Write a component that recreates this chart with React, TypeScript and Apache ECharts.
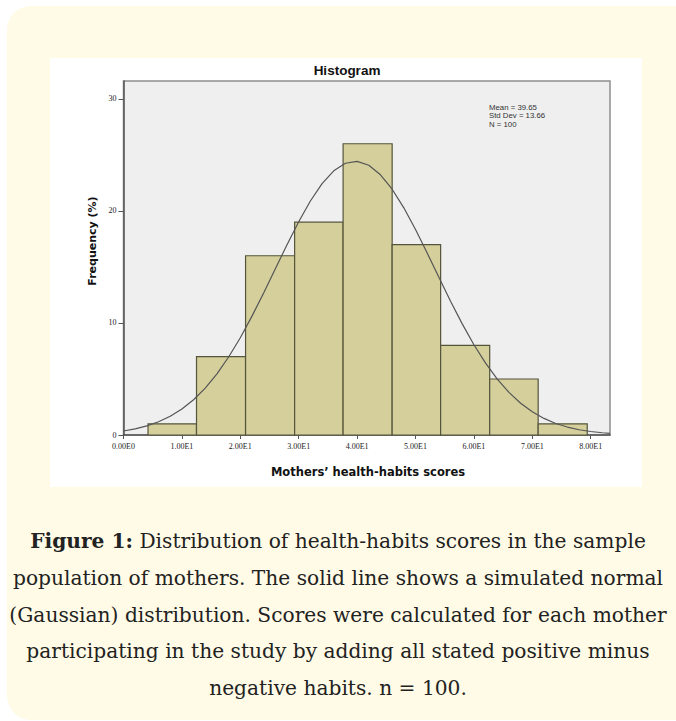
import React, { useEffect, useRef } from "react";
import * as echarts from "echarts";

// Histogram bins (score edges) and counts (% of 100 mothers)
const binEdges = [4.2, 12.5, 20.9, 29.3, 37.6, 46.0, 54.3, 62.7, 71.0, 79.4];
const binCounts = [1, 7, 16, 19, 26, 17, 8, 5, 1];

// Normal curve points
const curveX = [0, 2, 4, 6, 8, 10, 12, 14, 16, 18, 20, 22, 24, 26, 28, 30, 32, 34, 36, 38, 40, 42, 44, 46, 48, 50, 52, 54, 56, 58, 60, 62, 64, 66, 68, 70, 72, 74, 76, 78, 80, 82, 83.3];
const curveY = [0.36, 0.55, 0.81, 1.18, 1.67, 2.32, 3.15, 4.19, 5.46, 6.96, 8.68, 10.61, 12.68, 14.84, 16.99, 19.04, 20.89, 22.44, 23.58, 24.26, 24.43, 24.08, 23.23, 21.94, 20.28, 18.34, 16.24, 14.08, 11.94, 9.92, 8.06, 6.41, 4.99, 3.8, 2.84, 2.07, 1.48, 1.03, 0.71, 0.47, 0.31, 0.2, 0.15];

const xTickValues = [0, 10, 20, 30, 40, 50, 60, 70, 80];
const xTickLabels = ["0.00E0", "1.00E1", "2.00E1", "3.00E1", "4.00E1", "5.00E1", "6.00E1", "7.00E1", "8.00E1"];
const yTickValues = [0, 10, 20, 30];
const yTickLabels = ["0", "10", "20", "30"];

const chartTitle = "Histogram";
const xAxisTitle = "Mothers\u2019 health-habits scores";
const yAxisTitle = "Frequency (%)";
const statsLines = ["Mean = 39.65", "Std Dev = 13.66", "N = 100"];
const captionLines = [
  "{b|Figure 1:} Distribution of health-habits scores in the sample",
  "population of mothers. The solid line shows a simulated normal",
  "(Gaussian) distribution. Scores were calculated for each mother",
  "participating in the study by adding all stated positive minus",
  "negative habits. n = 100.",
];

const CAPTION_FONT = "DejaVu Serif";
const CAPTION_SIZE = 20.2;

export default function App() {
  const ref = useRef<HTMLDivElement>(null);
  useEffect(() => {
    const chart = echarts.init(ref.current!, null, { renderer: "svg" });
    const histData = binCounts.map((c, i) => [binEdges[i], binEdges[i + 1], c]);
    const captionGraphics = captionLines.map((line, i) => ({
      type: "text",
      x: 338,
      y: 541 + i * 36.8,
      style: {
        text: line,
        fontFamily: CAPTION_FONT,
        fontSize: CAPTION_SIZE,
        fill: "#222",
        align: "center",
        verticalAlign: "middle",
        rich: {
          b: { fontFamily: CAPTION_FONT, fontSize: CAPTION_SIZE, fontWeight: "bold", fill: "#222" },
        },
      },
    }));
    chart.setOption({
      animation: false,
      grid: {
        left: 123.5,
        top: 81,
        right: 66,
        bottom: 286,
        show: true,
        backgroundColor: "#efefef",
        borderColor: "#8f8f8f",
        borderWidth: 1.5,
      },
      xAxis: {
        type: "value",
        min: 0,
        max: 83.3,
        interval: 10,
        splitLine: { show: false },
        axisLine: { show: true, onZero: false, lineStyle: { color: "#555", width: 1.5 } },
        axisTick: { show: true, customValues: xTickValues, length: 4, lineStyle: { color: "#555" } },
        axisLabel: {
          customValues: xTickValues,
          formatter: (v: number) => {
            const i = xTickValues.indexOf(v);
            return i >= 0 ? xTickLabels[i] : "";
          },
          fontSize: 8,
          fontFamily: "Liberation Serif",
          color: "#222",
          margin: 7,
        },
      },
      yAxis: {
        type: "value",
        min: 0,
        max: 31.6,
        interval: 10,
        splitLine: { show: false },
        axisLine: { show: true, onZero: false, lineStyle: { color: "#555", width: 1.5 } },
        axisTick: { show: true, customValues: yTickValues, length: 5, lineStyle: { color: "#555" } },
        axisLabel: {
          customValues: yTickValues,
          formatter: (v: number) => {
            const i = yTickValues.indexOf(v);
            return i >= 0 ? yTickLabels[i] : "";
          },
          fontSize: 8,
          fontFamily: "Liberation Serif",
          color: "#222",
          margin: 7,
        },
      },
      series: [
        {
          type: "custom",
          renderItem: (params: any, api: any) => {
            const x0 = api.value(0);
            const x1 = api.value(1);
            const y = api.value(2);
            const p0 = api.coord([x0, y]);
            const p1 = api.coord([x1, 0]);
            return {
              type: "rect",
              shape: { x: p0[0], y: p0[1], width: p1[0] - p0[0], height: p1[1] - p0[1] },
              style: { fill: "#d4cf9b", stroke: "#55553c", lineWidth: 1.2 },
            };
          },
          encode: { x: [0, 1], y: 2 },
          data: histData,
          z: 2,
        },
        {
          type: "line",
          data: curveX.map((x, i) => [x, curveY[i]]),
          smooth: false,
          symbol: "none",
          lineStyle: { color: "#555", width: 1.2 },
          z: 3,
        },
      ],
      graphic: [
        {
          type: "text",
          x: 347,
          y: 70,
          style: {
            text: chartTitle,
            fontFamily: "Liberation Sans",
            fontWeight: "bold",
            fontSize: 13.5,
            fill: "#111",
            align: "center",
            verticalAlign: "middle",
          },
        },
        {
          type: "text",
          x: 368,
          y: 472,
          style: {
            text: xAxisTitle,
            fontFamily: "DejaVu Sans",
            fontWeight: "bold",
            fontSize: 11.5,
            fill: "#111",
            align: "center",
            verticalAlign: "middle",
          },
        },
        {
          type: "text",
          x: 92,
          y: 241,
          rotation: Math.PI / 2,
          style: {
            text: yAxisTitle,
            fontFamily: "DejaVu Sans",
            fontWeight: "bold",
            fontSize: 11,
            fill: "#111",
            align: "center",
            verticalAlign: "middle",
          },
        },
        ...statsLines.map((s, i) => ({
          type: "text",
          x: 489,
          y: 107 + i * 8.5,
          style: {
            text: s,
            fontFamily: "Liberation Sans",
            fontSize: 7.8,
            fill: "#333",
            align: "left",
            verticalAlign: "middle",
          },
        })),
        ...captionGraphics,
      ],
    });
    return () => chart.dispose();
  }, []);
  return (
    <div style={{ position: "fixed", left: 0, top: 0, width: 676, height: 721, overflow: "hidden", background: "#fff" }}>
      <div style={{ position: "absolute", left: 7, top: 6, width: 700, height: 714, background: "#fffbe6", borderRadius: 24 }} />
      <div style={{ position: "absolute", left: 50, top: 58, width: 592, height: 429, background: "#fff" }} />
      <div ref={ref} style={{ position: "absolute", left: 0, top: 0, width: 676, height: 721 }} />
    </div>
  );
}
